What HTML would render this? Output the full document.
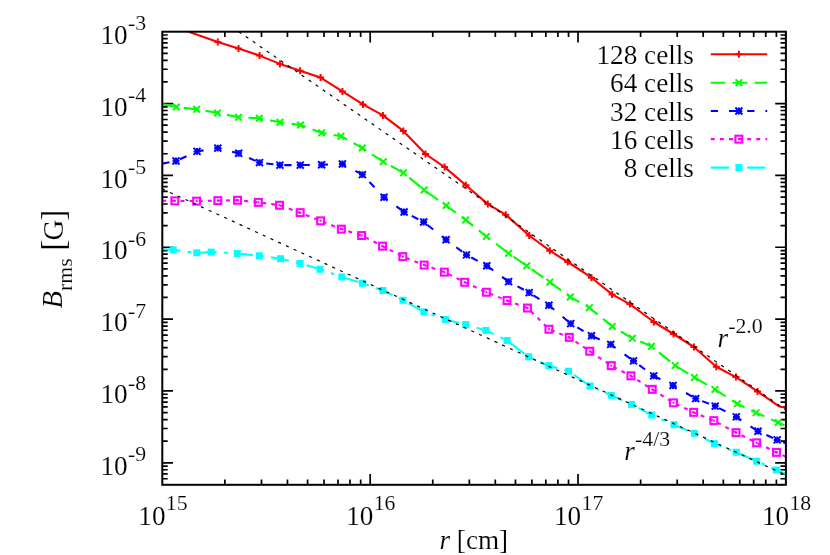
<!DOCTYPE html>
<html><head><meta charset="utf-8"><title>plot</title>
<style>html,body{margin:0;padding:0;background:#fff}svg{display:block;will-change:transform}text{font-family:"Liberation Serif",serif;fill:#000;stroke:#fff;stroke-width:0.15px}</style></head>
<body>
<svg width="830" height="555" viewBox="0 0 830 555">
<rect width="830" height="555" fill="#fff"/>
<path d="M224.87 484.80v-5.40 M224.87 31.70v5.40 M261.48 484.80v-5.40 M261.48 31.70v5.40 M287.45 484.80v-5.40 M287.45 31.70v5.40 M307.59 484.80v-5.40 M307.59 31.70v5.40 M324.05 484.80v-5.40 M324.05 31.70v5.40 M337.97 484.80v-5.40 M337.97 31.70v5.40 M350.02 484.80v-5.40 M350.02 31.70v5.40 M360.66 484.80v-5.40 M360.66 31.70v5.40 M370.17 484.80v-10.70 M370.17 31.70v10.70 M432.74 484.80v-5.40 M432.74 31.70v5.40 M469.34 484.80v-5.40 M469.34 31.70v5.40 M495.31 484.80v-5.40 M495.31 31.70v5.40 M515.46 484.80v-5.40 M515.46 31.70v5.40 M531.92 484.80v-5.40 M531.92 31.70v5.40 M545.83 484.80v-5.40 M545.83 31.70v5.40 M557.89 484.80v-5.40 M557.89 31.70v5.40 M568.52 484.80v-5.40 M568.52 31.70v5.40 M578.03 484.80v-10.70 M578.03 31.70v10.70 M640.61 484.80v-5.40 M640.61 31.70v5.40 M677.21 484.80v-5.40 M677.21 31.70v5.40 M703.18 484.80v-5.40 M703.18 31.70v5.40 M723.33 484.80v-5.40 M723.33 31.70v5.40 M739.79 484.80v-5.40 M739.79 31.70v5.40 M753.70 484.80v-5.40 M753.70 31.70v5.40 M765.76 484.80v-5.40 M765.76 31.70v5.40 M776.39 484.80v-5.40 M776.39 31.70v5.40 M162.30 81.92h5.40 M785.90 81.92h-5.40 M162.30 69.27h5.40 M785.90 69.27h-5.40 M162.30 60.29h5.40 M785.90 60.29h-5.40 M162.30 53.33h5.40 M785.90 53.33h-5.40 M162.30 47.64h5.40 M785.90 47.64h-5.40 M162.30 42.83h5.40 M785.90 42.83h-5.40 M162.30 38.66h5.40 M785.90 38.66h-5.40 M162.30 34.99h5.40 M785.90 34.99h-5.40 M162.30 103.55h10.70 M785.90 103.55h-10.70 M162.30 153.77h5.40 M785.90 153.77h-5.40 M162.30 141.12h5.40 M785.90 141.12h-5.40 M162.30 132.14h5.40 M785.90 132.14h-5.40 M162.30 125.18h5.40 M785.90 125.18h-5.40 M162.30 119.49h5.40 M785.90 119.49h-5.40 M162.30 114.68h5.40 M785.90 114.68h-5.40 M162.30 110.51h5.40 M785.90 110.51h-5.40 M162.30 106.84h5.40 M785.90 106.84h-5.40 M162.30 175.40h10.70 M785.90 175.40h-10.70 M162.30 225.62h5.40 M785.90 225.62h-5.40 M162.30 212.97h5.40 M785.90 212.97h-5.40 M162.30 203.99h5.40 M785.90 203.99h-5.40 M162.30 197.03h5.40 M785.90 197.03h-5.40 M162.30 191.34h5.40 M785.90 191.34h-5.40 M162.30 186.53h5.40 M785.90 186.53h-5.40 M162.30 182.36h5.40 M785.90 182.36h-5.40 M162.30 178.69h5.40 M785.90 178.69h-5.40 M162.30 247.25h10.70 M785.90 247.25h-10.70 M162.30 297.47h5.40 M785.90 297.47h-5.40 M162.30 284.82h5.40 M785.90 284.82h-5.40 M162.30 275.84h5.40 M785.90 275.84h-5.40 M162.30 268.88h5.40 M785.90 268.88h-5.40 M162.30 263.19h5.40 M785.90 263.19h-5.40 M162.30 258.38h5.40 M785.90 258.38h-5.40 M162.30 254.21h5.40 M785.90 254.21h-5.40 M162.30 250.54h5.40 M785.90 250.54h-5.40 M162.30 319.10h10.70 M785.90 319.10h-10.70 M162.30 369.32h5.40 M785.90 369.32h-5.40 M162.30 356.67h5.40 M785.90 356.67h-5.40 M162.30 347.69h5.40 M785.90 347.69h-5.40 M162.30 340.73h5.40 M785.90 340.73h-5.40 M162.30 335.04h5.40 M785.90 335.04h-5.40 M162.30 330.23h5.40 M785.90 330.23h-5.40 M162.30 326.06h5.40 M785.90 326.06h-5.40 M162.30 322.39h5.40 M785.90 322.39h-5.40 M162.30 390.95h10.70 M785.90 390.95h-10.70 M162.30 441.17h5.40 M785.90 441.17h-5.40 M162.30 428.52h5.40 M785.90 428.52h-5.40 M162.30 419.54h5.40 M785.90 419.54h-5.40 M162.30 412.58h5.40 M785.90 412.58h-5.40 M162.30 406.89h5.40 M785.90 406.89h-5.40 M162.30 402.08h5.40 M785.90 402.08h-5.40 M162.30 397.91h5.40 M785.90 397.91h-5.40 M162.30 394.24h5.40 M785.90 394.24h-5.40 M162.30 462.80h10.70 M785.90 462.80h-10.70 M162.30 478.74h5.40 M785.90 478.74h-5.40 M162.30 473.93h5.40 M785.90 473.93h-5.40 M162.30 469.76h5.40 M785.90 469.76h-5.40 M162.30 466.09h5.40 M785.90 466.09h-5.40" stroke="#000" stroke-width="1.7" fill="none"/>
<polyline points="188.7,31.7 217.8,41.9 238.5,48.4 259.5,55.6 279.9,63.9 300.1,70.8 320.6,77.6 342.4,91.4 363.0,104.4 382.9,115.4 403.3,130.9 425.5,154.0 444.6,167.1 465.9,185.3 487.8,204.1 505.7,214.7 529.2,235.5 549.8,250.7 567.8,262.0 591.5,277.7 612.1,294.4 629.9,304.1 653.9,322.0 673.5,334.0 693.9,347.0 716.3,366.7 735.9,377.1 757.5,391.4 778.7,406.2 785.9,407.8" fill="none" stroke="#ff0000" stroke-width="2.1" stroke-linejoin="round"/>
<polyline points="162.3,104.1 176.4,107.0 196.7,109.3 217.5,112.9 238.5,117.3 259.3,118.3 279.9,122.3 300.5,125.0 321.6,132.8 341.0,136.2 362.2,148.0 383.3,161.7 403.5,172.8 424.1,190.0 446.1,205.5 465.7,219.9 486.4,236.5 508.6,253.3 526.7,265.8 549.8,282.2 570.3,297.0 589.4,307.7 612.3,326.4 632.4,338.3 651.5,346.3 675.1,365.6 694.4,377.4 714.9,389.4 737.3,403.8 756.1,412.7 778.2,422.5 785.9,426.0" fill="none" stroke="#00ff00" stroke-width="2.1" stroke-linejoin="round" stroke-dasharray="14.56 7.28"/>
<polyline points="162.3,163.6 176.0,161.0 197.0,151.4 217.8,148.1 238.7,153.3 259.5,162.6 279.9,165.1 300.3,165.1 321.6,164.8 342.4,164.0 362.4,174.6 384.0,197.3 404.1,212.0 423.7,222.0 446.1,239.7 466.5,254.9 486.8,265.8 508.6,281.6 529.2,292.6 548.9,305.3 570.7,323.6 591.5,335.8 610.7,344.4 633.5,360.9 653.7,375.9 673.0,385.5 695.7,398.6 715.2,406.1 736.3,416.9 758.0,431.2 777.2,439.9 785.9,443.3" fill="none" stroke="#0000ff" stroke-width="2.1" stroke-linejoin="round" stroke-dasharray="7.28 10.92"/>
<polyline points="162.3,200.8 174.8,200.8 196.6,201.1 217.8,200.6 237.5,200.2 258.3,202.3 279.5,205.2 300.1,212.7 320.6,220.8 341.4,229.1 361.7,235.5 382.5,246.1 402.9,256.7 424.1,265.0 444.4,272.1 464.7,282.2 486.4,292.2 507.0,300.5 527.5,308.0 549.0,329.2 569.2,337.4 589.8,351.2 611.3,365.7 631.0,375.9 652.2,389.4 673.5,402.8 693.7,412.4 713.9,420.7 736.1,432.6 756.7,442.8 776.5,452.3 785.9,456.7" fill="none" stroke="#ff00ff" stroke-width="2.1" stroke-linejoin="round" stroke-dasharray="3.94 5.16"/>
<polyline points="162.3,249.0 173.2,249.9 196.8,252.8 211.2,252.1 237.3,253.5 259.3,255.8 280.5,258.7 300.1,263.4 320.0,269.3 341.8,277.0 362.4,283.2 382.9,290.5 403.0,300.3 423.9,311.9 445.5,319.6 465.7,324.6 486.0,330.4 507.1,340.5 528.6,356.8 549.0,365.7 568.5,371.2 590.1,386.0 611.3,395.3 631.6,404.4 651.8,415.0 674.0,424.7 694.4,433.3 714.4,443.6 736.2,452.2 756.7,461.2 776.4,470.0 785.9,474.0" fill="none" stroke="#00ffff" stroke-width="2.1" stroke-linejoin="round" stroke-dasharray="18.20 7.28 3.64 7.28"/>
<path d="M214.3 41.9h7.0 M217.8 38.4v7.0" stroke="#ff0000" stroke-width="2" fill="none"/><path d="M235.0 48.4h7.0 M238.5 44.9v7.0" stroke="#ff0000" stroke-width="2" fill="none"/><path d="M256.0 55.6h7.0 M259.5 52.1v7.0" stroke="#ff0000" stroke-width="2" fill="none"/><path d="M276.4 63.9h7.0 M279.9 60.4v7.0" stroke="#ff0000" stroke-width="2" fill="none"/><path d="M296.6 70.8h7.0 M300.1 67.3v7.0" stroke="#ff0000" stroke-width="2" fill="none"/><path d="M317.1 77.6h7.0 M320.6 74.1v7.0" stroke="#ff0000" stroke-width="2" fill="none"/><path d="M338.9 91.4h7.0 M342.4 87.9v7.0" stroke="#ff0000" stroke-width="2" fill="none"/><path d="M359.5 104.4h7.0 M363.0 100.9v7.0" stroke="#ff0000" stroke-width="2" fill="none"/><path d="M379.4 115.4h7.0 M382.9 111.9v7.0" stroke="#ff0000" stroke-width="2" fill="none"/><path d="M399.8 130.9h7.0 M403.3 127.4v7.0" stroke="#ff0000" stroke-width="2" fill="none"/><path d="M422.0 154.0h7.0 M425.5 150.5v7.0" stroke="#ff0000" stroke-width="2" fill="none"/><path d="M441.1 167.1h7.0 M444.6 163.6v7.0" stroke="#ff0000" stroke-width="2" fill="none"/><path d="M462.4 185.3h7.0 M465.9 181.8v7.0" stroke="#ff0000" stroke-width="2" fill="none"/><path d="M484.3 204.1h7.0 M487.8 200.6v7.0" stroke="#ff0000" stroke-width="2" fill="none"/><path d="M502.2 214.7h7.0 M505.7 211.2v7.0" stroke="#ff0000" stroke-width="2" fill="none"/><path d="M525.7 235.5h7.0 M529.2 232.0v7.0" stroke="#ff0000" stroke-width="2" fill="none"/><path d="M546.3 250.7h7.0 M549.8 247.2v7.0" stroke="#ff0000" stroke-width="2" fill="none"/><path d="M564.3 262.0h7.0 M567.8 258.5v7.0" stroke="#ff0000" stroke-width="2" fill="none"/><path d="M588.0 277.7h7.0 M591.5 274.2v7.0" stroke="#ff0000" stroke-width="2" fill="none"/><path d="M608.6 294.4h7.0 M612.1 290.9v7.0" stroke="#ff0000" stroke-width="2" fill="none"/><path d="M626.4 304.1h7.0 M629.9 300.6v7.0" stroke="#ff0000" stroke-width="2" fill="none"/><path d="M650.4 322.0h7.0 M653.9 318.5v7.0" stroke="#ff0000" stroke-width="2" fill="none"/><path d="M670.0 334.0h7.0 M673.5 330.5v7.0" stroke="#ff0000" stroke-width="2" fill="none"/><path d="M690.4 347.0h7.0 M693.9 343.5v7.0" stroke="#ff0000" stroke-width="2" fill="none"/><path d="M712.8 366.7h7.0 M716.3 363.2v7.0" stroke="#ff0000" stroke-width="2" fill="none"/><path d="M732.4 377.1h7.0 M735.9 373.6v7.0" stroke="#ff0000" stroke-width="2" fill="none"/><path d="M754.0 391.4h7.0 M757.5 387.9v7.0" stroke="#ff0000" stroke-width="2" fill="none"/>
<path d="M173.1 103.7l6.6 6.6 M173.1 110.3l6.6 -6.6" stroke="#00ff00" stroke-width="2" fill="none"/><path d="M193.4 106.0l6.6 6.6 M193.4 112.6l6.6 -6.6" stroke="#00ff00" stroke-width="2" fill="none"/><path d="M214.2 109.6l6.6 6.6 M214.2 116.2l6.6 -6.6" stroke="#00ff00" stroke-width="2" fill="none"/><path d="M235.2 114.0l6.6 6.6 M235.2 120.6l6.6 -6.6" stroke="#00ff00" stroke-width="2" fill="none"/><path d="M256.0 115.0l6.6 6.6 M256.0 121.6l6.6 -6.6" stroke="#00ff00" stroke-width="2" fill="none"/><path d="M276.6 119.0l6.6 6.6 M276.6 125.6l6.6 -6.6" stroke="#00ff00" stroke-width="2" fill="none"/><path d="M297.2 121.7l6.6 6.6 M297.2 128.3l6.6 -6.6" stroke="#00ff00" stroke-width="2" fill="none"/><path d="M318.3 129.5l6.6 6.6 M318.3 136.1l6.6 -6.6" stroke="#00ff00" stroke-width="2" fill="none"/><path d="M337.7 132.9l6.6 6.6 M337.7 139.5l6.6 -6.6" stroke="#00ff00" stroke-width="2" fill="none"/><path d="M358.9 144.7l6.6 6.6 M358.9 151.3l6.6 -6.6" stroke="#00ff00" stroke-width="2" fill="none"/><path d="M380.0 158.4l6.6 6.6 M380.0 165.0l6.6 -6.6" stroke="#00ff00" stroke-width="2" fill="none"/><path d="M400.2 169.5l6.6 6.6 M400.2 176.1l6.6 -6.6" stroke="#00ff00" stroke-width="2" fill="none"/><path d="M420.8 186.7l6.6 6.6 M420.8 193.3l6.6 -6.6" stroke="#00ff00" stroke-width="2" fill="none"/><path d="M442.8 202.2l6.6 6.6 M442.8 208.8l6.6 -6.6" stroke="#00ff00" stroke-width="2" fill="none"/><path d="M462.4 216.6l6.6 6.6 M462.4 223.2l6.6 -6.6" stroke="#00ff00" stroke-width="2" fill="none"/><path d="M483.1 233.2l6.6 6.6 M483.1 239.8l6.6 -6.6" stroke="#00ff00" stroke-width="2" fill="none"/><path d="M505.3 250.0l6.6 6.6 M505.3 256.6l6.6 -6.6" stroke="#00ff00" stroke-width="2" fill="none"/><path d="M523.4 262.5l6.6 6.6 M523.4 269.1l6.6 -6.6" stroke="#00ff00" stroke-width="2" fill="none"/><path d="M546.5 278.9l6.6 6.6 M546.5 285.5l6.6 -6.6" stroke="#00ff00" stroke-width="2" fill="none"/><path d="M567.0 293.7l6.6 6.6 M567.0 300.3l6.6 -6.6" stroke="#00ff00" stroke-width="2" fill="none"/><path d="M586.1 304.4l6.6 6.6 M586.1 311.0l6.6 -6.6" stroke="#00ff00" stroke-width="2" fill="none"/><path d="M609.0 323.1l6.6 6.6 M609.0 329.7l6.6 -6.6" stroke="#00ff00" stroke-width="2" fill="none"/><path d="M629.1 335.0l6.6 6.6 M629.1 341.6l6.6 -6.6" stroke="#00ff00" stroke-width="2" fill="none"/><path d="M648.2 343.0l6.6 6.6 M648.2 349.6l6.6 -6.6" stroke="#00ff00" stroke-width="2" fill="none"/><path d="M671.8 362.3l6.6 6.6 M671.8 368.9l6.6 -6.6" stroke="#00ff00" stroke-width="2" fill="none"/><path d="M691.1 374.1l6.6 6.6 M691.1 380.7l6.6 -6.6" stroke="#00ff00" stroke-width="2" fill="none"/><path d="M711.6 386.1l6.6 6.6 M711.6 392.7l6.6 -6.6" stroke="#00ff00" stroke-width="2" fill="none"/><path d="M734.0 400.5l6.6 6.6 M734.0 407.1l6.6 -6.6" stroke="#00ff00" stroke-width="2" fill="none"/><path d="M752.8 409.4l6.6 6.6 M752.8 416.0l6.6 -6.6" stroke="#00ff00" stroke-width="2" fill="none"/><path d="M774.9 419.2l6.6 6.6 M774.9 425.8l6.6 -6.6" stroke="#00ff00" stroke-width="2" fill="none"/>
<path d="M172.6 161.0h6.8 M176.0 157.6v6.8" stroke="#0000ff" stroke-width="2" fill="none"/><path d="M172.5 157.5l7.0 7.0 M172.5 164.5l7.0 -7.0" stroke="#0000ff" stroke-width="2" fill="none"/><path d="M193.6 151.4h6.8 M197.0 148.0v6.8" stroke="#0000ff" stroke-width="2" fill="none"/><path d="M193.5 147.9l7.0 7.0 M193.5 154.9l7.0 -7.0" stroke="#0000ff" stroke-width="2" fill="none"/><path d="M214.4 148.1h6.8 M217.8 144.7v6.8" stroke="#0000ff" stroke-width="2" fill="none"/><path d="M214.3 144.6l7.0 7.0 M214.3 151.6l7.0 -7.0" stroke="#0000ff" stroke-width="2" fill="none"/><path d="M235.3 153.3h6.8 M238.7 149.9v6.8" stroke="#0000ff" stroke-width="2" fill="none"/><path d="M235.2 149.8l7.0 7.0 M235.2 156.8l7.0 -7.0" stroke="#0000ff" stroke-width="2" fill="none"/><path d="M256.1 162.6h6.8 M259.5 159.2v6.8" stroke="#0000ff" stroke-width="2" fill="none"/><path d="M256.0 159.1l7.0 7.0 M256.0 166.1l7.0 -7.0" stroke="#0000ff" stroke-width="2" fill="none"/><path d="M276.5 165.1h6.8 M279.9 161.7v6.8" stroke="#0000ff" stroke-width="2" fill="none"/><path d="M276.4 161.6l7.0 7.0 M276.4 168.6l7.0 -7.0" stroke="#0000ff" stroke-width="2" fill="none"/><path d="M296.9 165.1h6.8 M300.3 161.7v6.8" stroke="#0000ff" stroke-width="2" fill="none"/><path d="M296.8 161.6l7.0 7.0 M296.8 168.6l7.0 -7.0" stroke="#0000ff" stroke-width="2" fill="none"/><path d="M318.2 164.8h6.8 M321.6 161.4v6.8" stroke="#0000ff" stroke-width="2" fill="none"/><path d="M318.1 161.3l7.0 7.0 M318.1 168.3l7.0 -7.0" stroke="#0000ff" stroke-width="2" fill="none"/><path d="M339.0 164.0h6.8 M342.4 160.6v6.8" stroke="#0000ff" stroke-width="2" fill="none"/><path d="M338.9 160.5l7.0 7.0 M338.9 167.5l7.0 -7.0" stroke="#0000ff" stroke-width="2" fill="none"/><path d="M359.0 174.6h6.8 M362.4 171.2v6.8" stroke="#0000ff" stroke-width="2" fill="none"/><path d="M358.9 171.1l7.0 7.0 M358.9 178.1l7.0 -7.0" stroke="#0000ff" stroke-width="2" fill="none"/><path d="M380.6 197.3h6.8 M384.0 193.9v6.8" stroke="#0000ff" stroke-width="2" fill="none"/><path d="M380.5 193.8l7.0 7.0 M380.5 200.8l7.0 -7.0" stroke="#0000ff" stroke-width="2" fill="none"/><path d="M400.7 212.0h6.8 M404.1 208.6v6.8" stroke="#0000ff" stroke-width="2" fill="none"/><path d="M400.6 208.5l7.0 7.0 M400.6 215.5l7.0 -7.0" stroke="#0000ff" stroke-width="2" fill="none"/><path d="M420.3 222.0h6.8 M423.7 218.6v6.8" stroke="#0000ff" stroke-width="2" fill="none"/><path d="M420.2 218.5l7.0 7.0 M420.2 225.5l7.0 -7.0" stroke="#0000ff" stroke-width="2" fill="none"/><path d="M442.7 239.7h6.8 M446.1 236.3v6.8" stroke="#0000ff" stroke-width="2" fill="none"/><path d="M442.6 236.2l7.0 7.0 M442.6 243.2l7.0 -7.0" stroke="#0000ff" stroke-width="2" fill="none"/><path d="M463.1 254.9h6.8 M466.5 251.5v6.8" stroke="#0000ff" stroke-width="2" fill="none"/><path d="M463.0 251.4l7.0 7.0 M463.0 258.4l7.0 -7.0" stroke="#0000ff" stroke-width="2" fill="none"/><path d="M483.4 265.8h6.8 M486.8 262.4v6.8" stroke="#0000ff" stroke-width="2" fill="none"/><path d="M483.3 262.3l7.0 7.0 M483.3 269.3l7.0 -7.0" stroke="#0000ff" stroke-width="2" fill="none"/><path d="M505.2 281.6h6.8 M508.6 278.2v6.8" stroke="#0000ff" stroke-width="2" fill="none"/><path d="M505.1 278.1l7.0 7.0 M505.1 285.1l7.0 -7.0" stroke="#0000ff" stroke-width="2" fill="none"/><path d="M525.8 292.6h6.8 M529.2 289.2v6.8" stroke="#0000ff" stroke-width="2" fill="none"/><path d="M525.7 289.1l7.0 7.0 M525.7 296.1l7.0 -7.0" stroke="#0000ff" stroke-width="2" fill="none"/><path d="M545.5 305.3h6.8 M548.9 301.9v6.8" stroke="#0000ff" stroke-width="2" fill="none"/><path d="M545.4 301.8l7.0 7.0 M545.4 308.8l7.0 -7.0" stroke="#0000ff" stroke-width="2" fill="none"/><path d="M567.3 323.6h6.8 M570.7 320.2v6.8" stroke="#0000ff" stroke-width="2" fill="none"/><path d="M567.2 320.1l7.0 7.0 M567.2 327.1l7.0 -7.0" stroke="#0000ff" stroke-width="2" fill="none"/><path d="M588.1 335.8h6.8 M591.5 332.4v6.8" stroke="#0000ff" stroke-width="2" fill="none"/><path d="M588.0 332.3l7.0 7.0 M588.0 339.3l7.0 -7.0" stroke="#0000ff" stroke-width="2" fill="none"/><path d="M607.3 344.4h6.8 M610.7 341.0v6.8" stroke="#0000ff" stroke-width="2" fill="none"/><path d="M607.2 340.9l7.0 7.0 M607.2 347.9l7.0 -7.0" stroke="#0000ff" stroke-width="2" fill="none"/><path d="M630.1 360.9h6.8 M633.5 357.5v6.8" stroke="#0000ff" stroke-width="2" fill="none"/><path d="M630.0 357.4l7.0 7.0 M630.0 364.4l7.0 -7.0" stroke="#0000ff" stroke-width="2" fill="none"/><path d="M650.3 375.9h6.8 M653.7 372.5v6.8" stroke="#0000ff" stroke-width="2" fill="none"/><path d="M650.2 372.4l7.0 7.0 M650.2 379.4l7.0 -7.0" stroke="#0000ff" stroke-width="2" fill="none"/><path d="M669.6 385.5h6.8 M673.0 382.1v6.8" stroke="#0000ff" stroke-width="2" fill="none"/><path d="M669.5 382.0l7.0 7.0 M669.5 389.0l7.0 -7.0" stroke="#0000ff" stroke-width="2" fill="none"/><path d="M692.3 398.6h6.8 M695.7 395.2v6.8" stroke="#0000ff" stroke-width="2" fill="none"/><path d="M692.2 395.1l7.0 7.0 M692.2 402.1l7.0 -7.0" stroke="#0000ff" stroke-width="2" fill="none"/><path d="M711.8 406.1h6.8 M715.2 402.7v6.8" stroke="#0000ff" stroke-width="2" fill="none"/><path d="M711.7 402.6l7.0 7.0 M711.7 409.6l7.0 -7.0" stroke="#0000ff" stroke-width="2" fill="none"/><path d="M732.9 416.9h6.8 M736.3 413.5v6.8" stroke="#0000ff" stroke-width="2" fill="none"/><path d="M732.8 413.4l7.0 7.0 M732.8 420.4l7.0 -7.0" stroke="#0000ff" stroke-width="2" fill="none"/><path d="M754.6 431.2h6.8 M758.0 427.8v6.8" stroke="#0000ff" stroke-width="2" fill="none"/><path d="M754.5 427.7l7.0 7.0 M754.5 434.7l7.0 -7.0" stroke="#0000ff" stroke-width="2" fill="none"/><path d="M773.8 439.9h6.8 M777.2 436.5v6.8" stroke="#0000ff" stroke-width="2" fill="none"/><path d="M773.7 436.4l7.0 7.0 M773.7 443.4l7.0 -7.0" stroke="#0000ff" stroke-width="2" fill="none"/>
<rect x="171.4" y="197.4" width="6.9" height="6.9" fill="none" stroke="#ff00ff" stroke-width="2.1"/><rect x="173.8" y="199.8" width="2" height="2" fill="#ff00ff"/><rect x="193.2" y="197.7" width="6.9" height="6.9" fill="none" stroke="#ff00ff" stroke-width="2.1"/><rect x="195.6" y="200.1" width="2" height="2" fill="#ff00ff"/><rect x="214.4" y="197.2" width="6.9" height="6.9" fill="none" stroke="#ff00ff" stroke-width="2.1"/><rect x="216.8" y="199.6" width="2" height="2" fill="#ff00ff"/><rect x="234.1" y="196.8" width="6.9" height="6.9" fill="none" stroke="#ff00ff" stroke-width="2.1"/><rect x="236.5" y="199.2" width="2" height="2" fill="#ff00ff"/><rect x="254.9" y="198.9" width="6.9" height="6.9" fill="none" stroke="#ff00ff" stroke-width="2.1"/><rect x="257.3" y="201.3" width="2" height="2" fill="#ff00ff"/><rect x="276.1" y="201.8" width="6.9" height="6.9" fill="none" stroke="#ff00ff" stroke-width="2.1"/><rect x="278.5" y="204.2" width="2" height="2" fill="#ff00ff"/><rect x="296.7" y="209.2" width="6.9" height="6.9" fill="none" stroke="#ff00ff" stroke-width="2.1"/><rect x="299.1" y="211.7" width="2" height="2" fill="#ff00ff"/><rect x="317.2" y="217.4" width="6.9" height="6.9" fill="none" stroke="#ff00ff" stroke-width="2.1"/><rect x="319.6" y="219.8" width="2" height="2" fill="#ff00ff"/><rect x="337.9" y="225.7" width="6.9" height="6.9" fill="none" stroke="#ff00ff" stroke-width="2.1"/><rect x="340.4" y="228.1" width="2" height="2" fill="#ff00ff"/><rect x="358.2" y="232.1" width="6.9" height="6.9" fill="none" stroke="#ff00ff" stroke-width="2.1"/><rect x="360.7" y="234.5" width="2" height="2" fill="#ff00ff"/><rect x="379.1" y="242.7" width="6.9" height="6.9" fill="none" stroke="#ff00ff" stroke-width="2.1"/><rect x="381.5" y="245.1" width="2" height="2" fill="#ff00ff"/><rect x="399.4" y="253.2" width="6.9" height="6.9" fill="none" stroke="#ff00ff" stroke-width="2.1"/><rect x="401.9" y="255.7" width="2" height="2" fill="#ff00ff"/><rect x="420.7" y="261.6" width="6.9" height="6.9" fill="none" stroke="#ff00ff" stroke-width="2.1"/><rect x="423.1" y="264.0" width="2" height="2" fill="#ff00ff"/><rect x="440.9" y="268.7" width="6.9" height="6.9" fill="none" stroke="#ff00ff" stroke-width="2.1"/><rect x="443.4" y="271.1" width="2" height="2" fill="#ff00ff"/><rect x="461.2" y="278.8" width="6.9" height="6.9" fill="none" stroke="#ff00ff" stroke-width="2.1"/><rect x="463.7" y="281.2" width="2" height="2" fill="#ff00ff"/><rect x="482.9" y="288.8" width="6.9" height="6.9" fill="none" stroke="#ff00ff" stroke-width="2.1"/><rect x="485.4" y="291.2" width="2" height="2" fill="#ff00ff"/><rect x="503.6" y="297.1" width="6.9" height="6.9" fill="none" stroke="#ff00ff" stroke-width="2.1"/><rect x="506.0" y="299.5" width="2" height="2" fill="#ff00ff"/><rect x="524.0" y="304.6" width="6.9" height="6.9" fill="none" stroke="#ff00ff" stroke-width="2.1"/><rect x="526.5" y="307.0" width="2" height="2" fill="#ff00ff"/><rect x="545.5" y="325.8" width="6.9" height="6.9" fill="none" stroke="#ff00ff" stroke-width="2.1"/><rect x="548.0" y="328.2" width="2" height="2" fill="#ff00ff"/><rect x="565.8" y="333.9" width="6.9" height="6.9" fill="none" stroke="#ff00ff" stroke-width="2.1"/><rect x="568.2" y="336.4" width="2" height="2" fill="#ff00ff"/><rect x="586.3" y="347.8" width="6.9" height="6.9" fill="none" stroke="#ff00ff" stroke-width="2.1"/><rect x="588.8" y="350.2" width="2" height="2" fill="#ff00ff"/><rect x="607.8" y="362.2" width="6.9" height="6.9" fill="none" stroke="#ff00ff" stroke-width="2.1"/><rect x="610.3" y="364.7" width="2" height="2" fill="#ff00ff"/><rect x="627.5" y="372.4" width="6.9" height="6.9" fill="none" stroke="#ff00ff" stroke-width="2.1"/><rect x="630.0" y="374.9" width="2" height="2" fill="#ff00ff"/><rect x="648.8" y="385.9" width="6.9" height="6.9" fill="none" stroke="#ff00ff" stroke-width="2.1"/><rect x="651.2" y="388.4" width="2" height="2" fill="#ff00ff"/><rect x="670.0" y="399.4" width="6.9" height="6.9" fill="none" stroke="#ff00ff" stroke-width="2.1"/><rect x="672.5" y="401.8" width="2" height="2" fill="#ff00ff"/><rect x="690.2" y="408.9" width="6.9" height="6.9" fill="none" stroke="#ff00ff" stroke-width="2.1"/><rect x="692.7" y="411.4" width="2" height="2" fill="#ff00ff"/><rect x="710.4" y="417.2" width="6.9" height="6.9" fill="none" stroke="#ff00ff" stroke-width="2.1"/><rect x="712.9" y="419.7" width="2" height="2" fill="#ff00ff"/><rect x="732.6" y="429.2" width="6.9" height="6.9" fill="none" stroke="#ff00ff" stroke-width="2.1"/><rect x="735.1" y="431.6" width="2" height="2" fill="#ff00ff"/><rect x="753.2" y="439.4" width="6.9" height="6.9" fill="none" stroke="#ff00ff" stroke-width="2.1"/><rect x="755.7" y="441.8" width="2" height="2" fill="#ff00ff"/><rect x="773.0" y="448.9" width="6.9" height="6.9" fill="none" stroke="#ff00ff" stroke-width="2.1"/><rect x="775.5" y="451.3" width="2" height="2" fill="#ff00ff"/>
<rect x="169.7" y="246.4" width="7.0" height="7.0" fill="#00ffff"/><rect x="193.3" y="249.3" width="7.0" height="7.0" fill="#00ffff"/><rect x="207.7" y="248.6" width="7.0" height="7.0" fill="#00ffff"/><rect x="233.8" y="250.0" width="7.0" height="7.0" fill="#00ffff"/><rect x="255.8" y="252.3" width="7.0" height="7.0" fill="#00ffff"/><rect x="277.0" y="255.2" width="7.0" height="7.0" fill="#00ffff"/><rect x="296.6" y="259.9" width="7.0" height="7.0" fill="#00ffff"/><rect x="316.5" y="265.8" width="7.0" height="7.0" fill="#00ffff"/><rect x="338.3" y="273.5" width="7.0" height="7.0" fill="#00ffff"/><rect x="358.9" y="279.7" width="7.0" height="7.0" fill="#00ffff"/><rect x="379.4" y="287.0" width="7.0" height="7.0" fill="#00ffff"/><rect x="399.5" y="296.8" width="7.0" height="7.0" fill="#00ffff"/><rect x="420.4" y="308.4" width="7.0" height="7.0" fill="#00ffff"/><rect x="442.0" y="316.1" width="7.0" height="7.0" fill="#00ffff"/><rect x="462.2" y="321.1" width="7.0" height="7.0" fill="#00ffff"/><rect x="482.5" y="326.9" width="7.0" height="7.0" fill="#00ffff"/><rect x="503.6" y="337.0" width="7.0" height="7.0" fill="#00ffff"/><rect x="525.1" y="353.3" width="7.0" height="7.0" fill="#00ffff"/><rect x="545.5" y="362.2" width="7.0" height="7.0" fill="#00ffff"/><rect x="565.0" y="367.7" width="7.0" height="7.0" fill="#00ffff"/><rect x="586.6" y="382.5" width="7.0" height="7.0" fill="#00ffff"/><rect x="607.8" y="391.8" width="7.0" height="7.0" fill="#00ffff"/><rect x="628.1" y="400.9" width="7.0" height="7.0" fill="#00ffff"/><rect x="648.3" y="411.5" width="7.0" height="7.0" fill="#00ffff"/><rect x="670.5" y="421.2" width="7.0" height="7.0" fill="#00ffff"/><rect x="690.9" y="429.8" width="7.0" height="7.0" fill="#00ffff"/><rect x="710.9" y="440.1" width="7.0" height="7.0" fill="#00ffff"/><rect x="732.7" y="448.7" width="7.0" height="7.0" fill="#00ffff"/><rect x="753.2" y="457.7" width="7.0" height="7.0" fill="#00ffff"/><rect x="772.9" y="466.5" width="7.0" height="7.0" fill="#00ffff"/>
<g stroke="#000" stroke-width="1.2" fill="none" stroke-dasharray="3.1 5.4">
<path d="M238.8 31.7 L785.9 409.9"/>
<path d="M162.3 188.9 L785.9 475.1"/>
</g>
<path d="M710.8 54.3H767.2" stroke="#ff0000" stroke-width="2.1"/>
<path d="M735.4 54.3h7.0 M738.9 50.8v7.0" stroke="#ff0000" stroke-width="2" fill="none"/>
<path d="M710.8 82.7H767.2" stroke="#00ff00" stroke-width="2.1" stroke-dasharray="14.56 7.28"/>
<path d="M735.6 79.4l6.6 6.6 M735.6 86.0l6.6 -6.6" stroke="#00ff00" stroke-width="2" fill="none"/>
<path d="M710.8 111.0H767.2" stroke="#0000ff" stroke-width="2.1" stroke-dasharray="7.28 10.92"/>
<path d="M735.5 111.0h6.8 M738.9 107.6v6.8" stroke="#0000ff" stroke-width="2" fill="none"/><path d="M735.4 107.5l7.0 7.0 M735.4 114.5l7.0 -7.0" stroke="#0000ff" stroke-width="2" fill="none"/>
<path d="M710.8 139.1H767.2" stroke="#ff00ff" stroke-width="2.1" stroke-dasharray="3.94 5.16"/>
<rect x="735.4" y="135.7" width="6.9" height="6.9" fill="none" stroke="#ff00ff" stroke-width="2.1"/><rect x="737.9" y="138.1" width="2" height="2" fill="#ff00ff"/>
<path d="M710.8 167.6H767.2" stroke="#00ffff" stroke-width="2.1" stroke-dasharray="18.20 7.28 3.64 7.28"/>
<rect x="735.4" y="164.1" width="7.0" height="7.0" fill="#00ffff"/>
<text x="693.9" y="63.9" font-size="27.2" text-anchor="end">128 cells</text>
<text x="693.9" y="92.3" font-size="27.2" text-anchor="end">64 cells</text>
<text x="693.9" y="120.6" font-size="27.2" text-anchor="end">32 cells</text>
<text x="693.9" y="148.7" font-size="27.2" text-anchor="end">16 cells</text>
<text x="693.9" y="177.2" font-size="27.2" text-anchor="end">8 cells</text>
<rect x="162.30" y="31.70" width="623.60" height="453.10" fill="none" stroke="#000" stroke-width="2"/>
<text x="127.6" y="43.8" font-size="27.2" text-anchor="end">10</text><text x="127.9" y="30.3" font-size="21.8">-3</text>
<text x="127.6" y="115.6" font-size="27.2" text-anchor="end">10</text><text x="127.9" y="102.1" font-size="21.8">-4</text>
<text x="127.6" y="187.5" font-size="27.2" text-anchor="end">10</text><text x="127.9" y="174.0" font-size="21.8">-5</text>
<text x="127.6" y="259.3" font-size="27.2" text-anchor="end">10</text><text x="127.9" y="245.8" font-size="21.8">-6</text>
<text x="127.6" y="331.2" font-size="27.2" text-anchor="end">10</text><text x="127.9" y="317.7" font-size="21.8">-7</text>
<text x="127.6" y="403.1" font-size="27.2" text-anchor="end">10</text><text x="127.9" y="389.6" font-size="21.8">-8</text>
<text x="127.6" y="474.9" font-size="27.2" text-anchor="end">10</text><text x="127.9" y="461.4" font-size="21.8">-9</text>
<text x="165.5" y="524.8" font-size="27.2" text-anchor="end">10</text><text x="165.8" y="510.2" font-size="21.8">15</text>
<text x="373.4" y="524.8" font-size="27.2" text-anchor="end">10</text><text x="373.7" y="510.2" font-size="21.8">16</text>
<text x="581.2" y="524.8" font-size="27.2" text-anchor="end">10</text><text x="581.5" y="510.2" font-size="21.8">17</text>
<text x="789.1" y="524.8" font-size="27.2" text-anchor="end">10</text><text x="789.4" y="510.2" font-size="21.8">18</text>
<text x="473.8" y="548.5" font-size="27.2" text-anchor="middle"><tspan font-style="italic">r</tspan> [cm]</text>
<g transform="translate(61.6 307.6) rotate(-90)"><text x="-1.0" y="0.3" font-size="28.6" font-style="italic">B</text><text x="16.6" y="10" font-size="21.8">rms</text><text x="56.95" y="2.1" font-size="33.5">[</text><text x="67.2" y="1.0" font-size="28.8">G</text><text x="86.9" y="2.1" font-size="33.5">]</text></g>
<text x="717.5" y="346.8" font-size="27.2" font-style="italic">r</text><text x="728.2" y="333.2" font-size="21.8">-2.0</text>
<text x="624.3" y="459.9" font-size="27.2" font-style="italic">r</text><text x="635.0" y="446.4" font-size="21.8">-4/3</text>
</svg></body></html>
